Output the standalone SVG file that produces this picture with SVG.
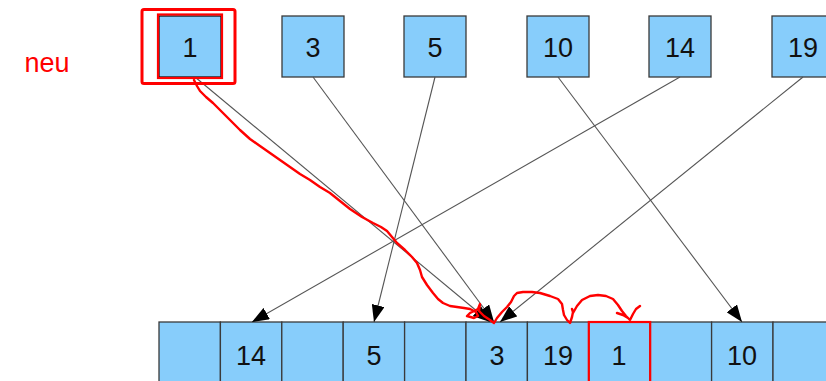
<svg xmlns="http://www.w3.org/2000/svg" width="826" height="381" viewBox="0 0 826 381">
<style>
.box{fill:#87cdfb;stroke:#3a3a3a;stroke-width:1.3}
.t{font-family:"Liberation Sans",Arial,sans-serif;font-size:27px;fill:#111;text-anchor:middle}
.edge{stroke:#555;stroke-width:1.1;fill:none;marker-end:url(#ah)}
.red{fill:none;stroke:#ff0000;stroke-width:2.4;stroke-linejoin:round;stroke-linecap:round}
</style>
<defs>
<marker id="ah" markerUnits="userSpaceOnUse" markerWidth="19" markerHeight="13" refX="17" refY="6.5" orient="auto">
<path d="M0,0 L17,6.5 L0,13 Z" fill="#000"/>
</marker>
</defs>
<rect width="826" height="381" fill="#fff"/>
<text x="47" y="72" class="t" style="fill:#ff0000">neu</text>
<g id="keys">
<g id="key-1"><rect class="box" x="159" y="16" width="62" height="61" style="stroke:#111"/><text class="t" x="190" y="57">1</text></g>
<g id="key-3"><rect class="box" x="282" y="16" width="62" height="61"/><text class="t" x="313" y="57">3</text></g>
<g id="key-5"><rect class="box" x="404" y="16" width="62" height="61"/><text class="t" x="435" y="57">5</text></g>
<g id="key-10"><rect class="box" x="527" y="16" width="62" height="61"/><text class="t" x="558" y="57">10</text></g>
<g id="key-14"><rect class="box" x="649" y="16" width="62" height="61"/><text class="t" x="680" y="57">14</text></g>
<g id="key-19"><rect class="box" x="772" y="16" width="62" height="61"/><text class="t" x="803" y="57">19</text></g>
</g>
<g id="table">
<g id="cell-0"><rect class="box" x="159" y="322" width="61.4" height="70"/></g>
<g id="cell-1"><rect class="box" x="220.4" y="322" width="61.4" height="70"/><text class="t" x="251" y="365">14</text></g>
<g id="cell-2"><rect class="box" x="281.8" y="322" width="61.4" height="70"/></g>
<g id="cell-3"><rect class="box" x="343.2" y="322" width="61.4" height="70"/><text class="t" x="374" y="365">5</text></g>
<g id="cell-4"><rect class="box" x="404.6" y="322" width="61.4" height="70"/></g>
<g id="cell-5"><rect class="box" x="466" y="322" width="61.4" height="70"/><text class="t" x="497" y="365">3</text></g>
<g id="cell-6"><rect class="box" x="527.4" y="322" width="61.4" height="70"/><text class="t" x="558" y="365">19</text></g>
<g id="cell-7"><rect class="box" x="588.8" y="322" width="61.4" height="70"/><text class="t" x="619" y="365">1</text></g>
<g id="cell-8"><rect class="box" x="650.2" y="322" width="61.4" height="70"/></g>
<g id="cell-9"><rect class="box" x="711.6" y="322" width="61.4" height="70"/><text class="t" x="742" y="365">10</text></g>
<g id="cell-10"><rect class="box" x="773" y="322" width="61.4" height="70"/></g>
</g>
<g id="connectors">
<line class="edge" x1="195" y1="77" x2="490" y2="322"/>
<line class="edge" x1="313" y1="77" x2="494" y2="322"/>
<line class="edge" x1="435" y1="77" x2="374" y2="322"/>
<line class="edge" x1="558" y1="77" x2="742" y2="322"/>
<line class="edge" x1="680" y1="77" x2="252" y2="322"/>
<line class="edge" x1="803" y1="77" x2="500" y2="322"/>
</g>
<g id="annotations">
<rect x="158" y="14.5" width="64" height="63.5" fill="none" stroke="#ff0000" stroke-width="2.2"/>
<rect x="142" y="9.5" width="93" height="74" rx="2" fill="none" stroke="#ff0000" stroke-width="3"/>
<rect x="588.8" y="322" width="61.4" height="70" fill="none" stroke="#ff0000" stroke-width="2.2"/>
<path class="red" d="M194,80 L197,86 L200,91 L206,97 L213,103 L222,112 L230,120 L240,130 L250,139 L260,146 L270,153 L280,160 L290,167 L300,174 L310,180 L320,187 L330,193 L340,201 L350,209 L362,217 L373,223 L381,227 L387,231 L392,237 L397,243 L405,250 L412,257 L417,263 L420,270 L422,277 L427,285 L433,293 L438,299 L443,303 L450,306 L457,307 L464,308 L470,309 L476,312 L478,316 L474,318 L467,316 L470,313 L478,309 L480,304 L479,311 L484,316 L490,320 L494,323 L497,318 L502,312 L507,307 L511,302 L514,296 L517,293 L523,292 L532,292 L540,293 L550,296 L558,299 L562,304 L563,310 L564,315 L567,320 L570,323 L572,317 L573,312 L572,309 M573,313 L577,306 L582,300 L590,296 L598,295 L606,296 L613,299 L618,305 L622,311 L626,316 L630,320 L633,314 L636,309 L640,306 M617,313 L623,315 L628,318"/>
</g>
</svg>
